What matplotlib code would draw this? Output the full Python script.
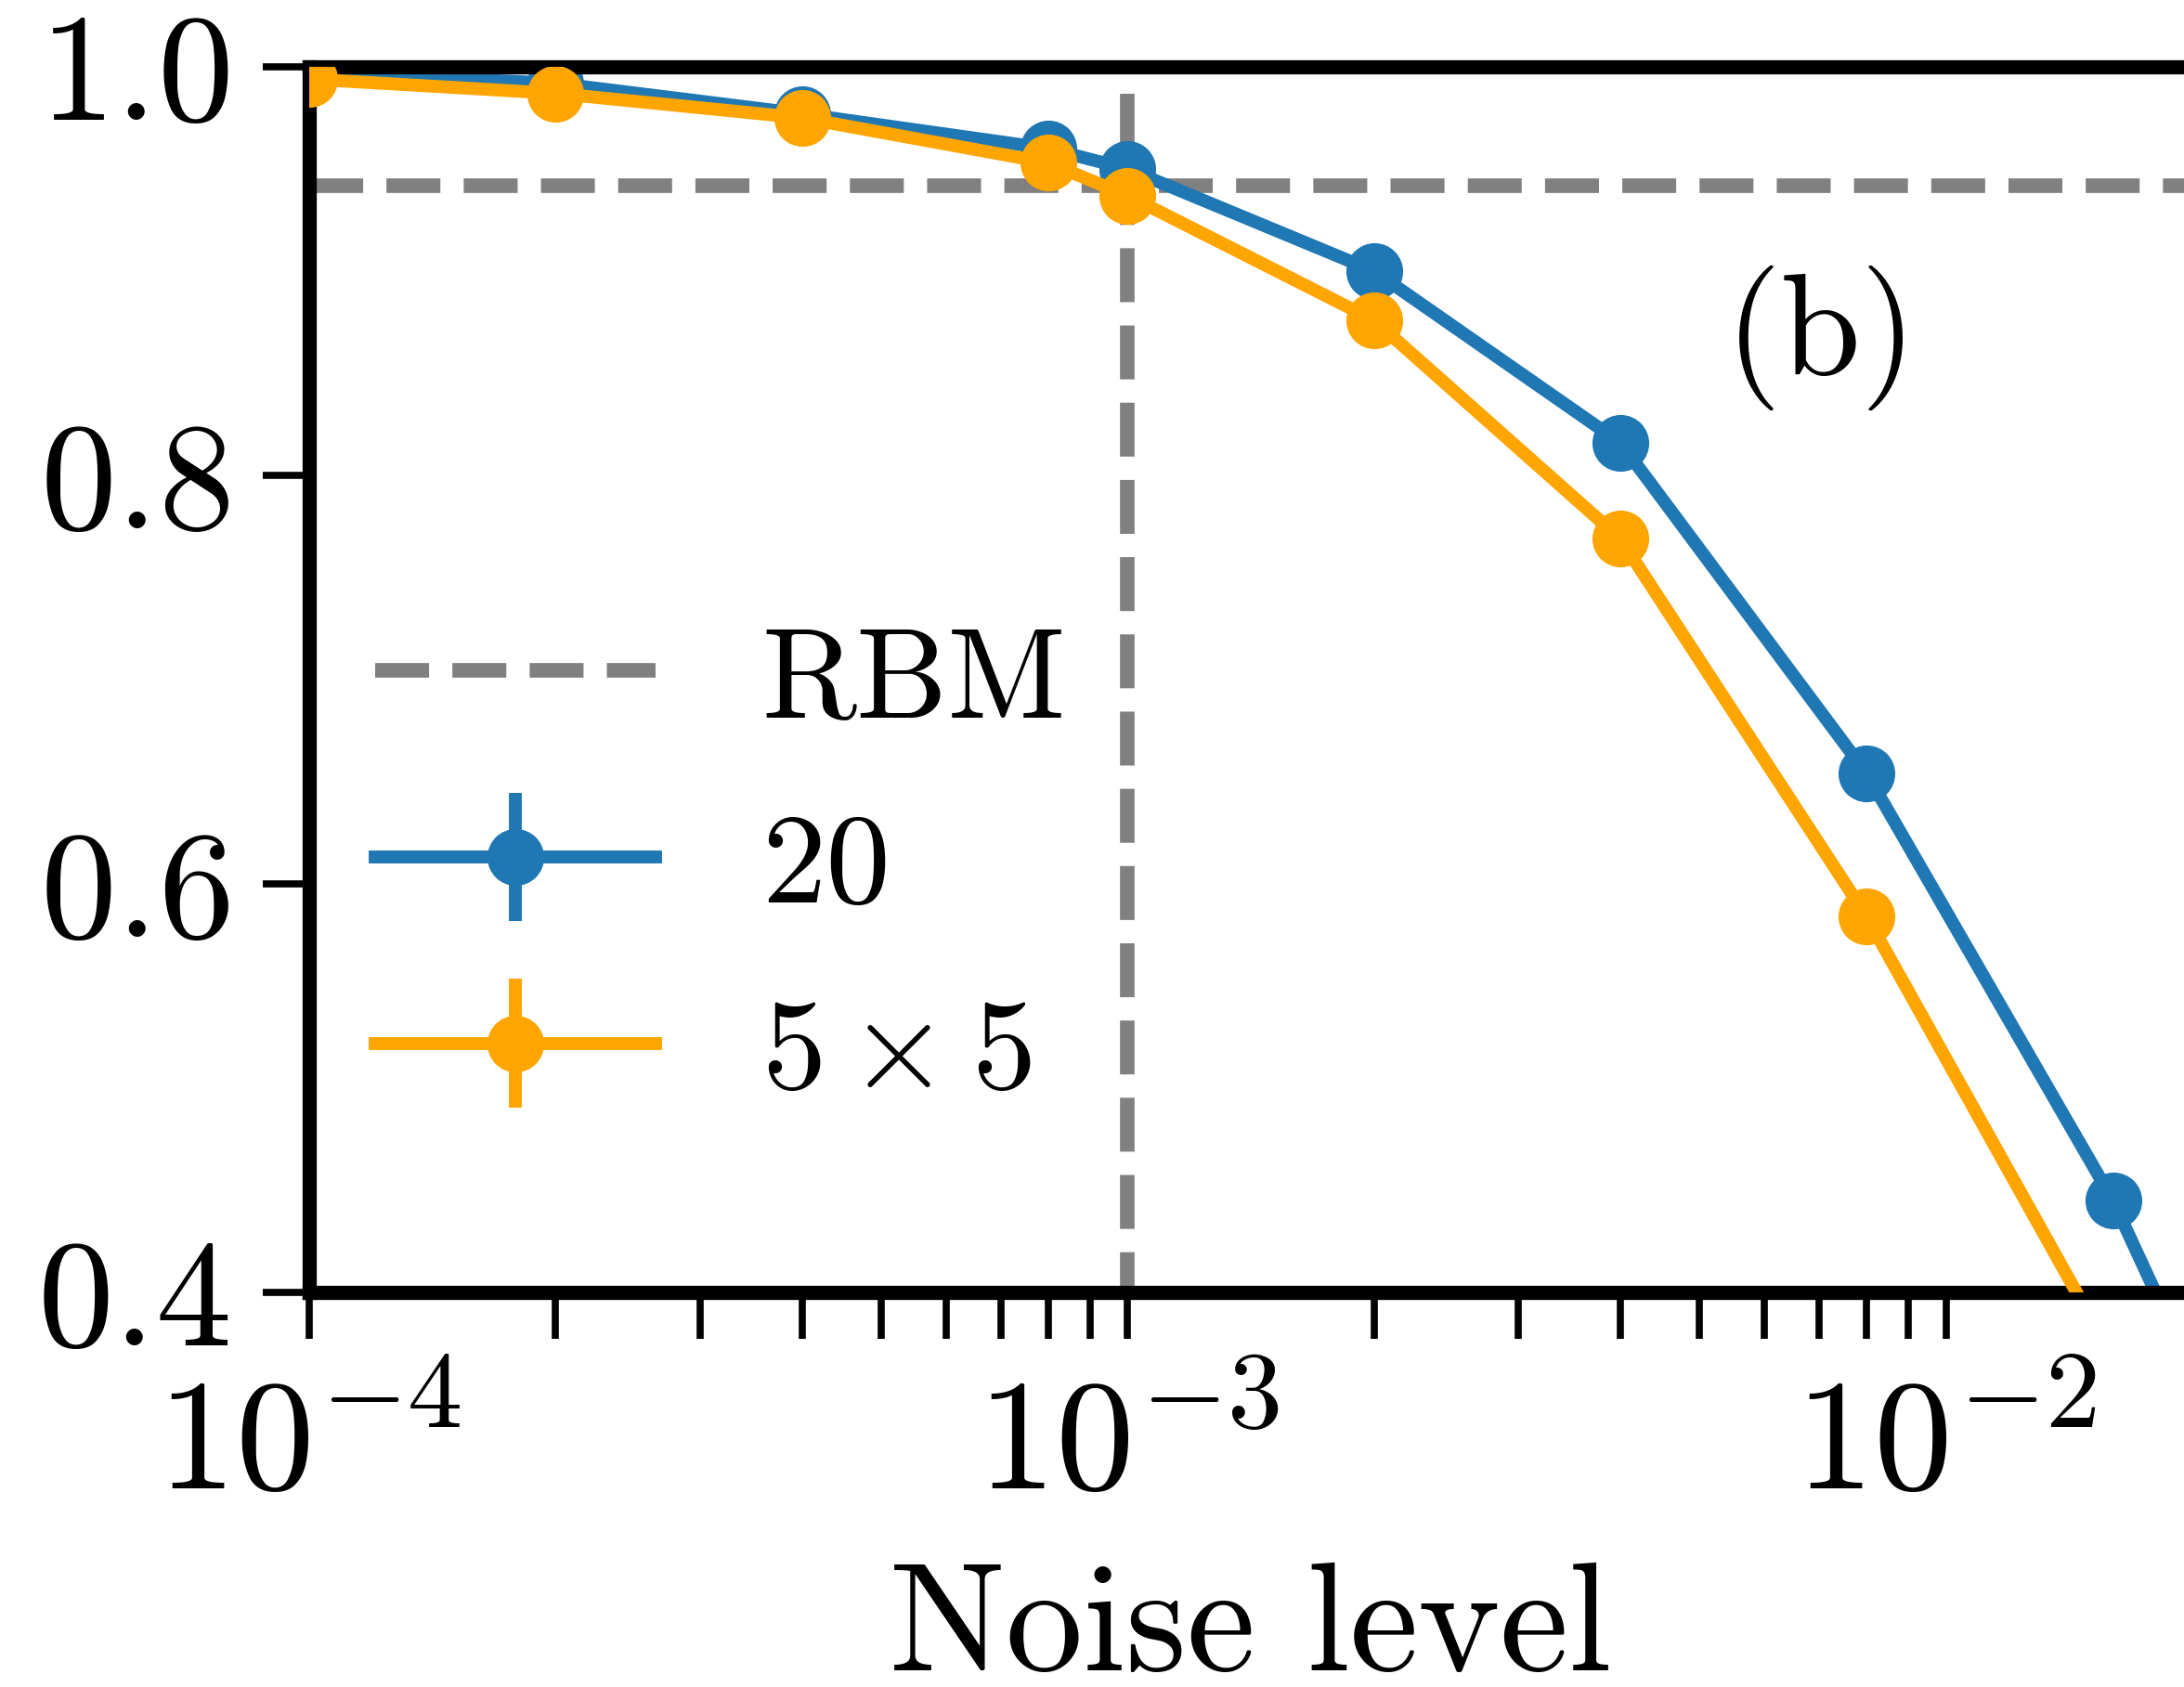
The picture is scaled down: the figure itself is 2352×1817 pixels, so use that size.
import numpy as np
import matplotlib
matplotlib.use("Agg")
import matplotlib.pyplot as plt

# data
noise = [1e-4, 2e-4, 4e-4, 8e-4, 1e-3, 2e-3, 4e-3, 8e-3, 1.6e-2, 3.2e-2]
acc_20 = [0.997, 0.992, 0.977, 0.960, 0.950, 0.900, 0.816, 0.654, 0.445, 0.184]
err_20 = [0.0] * len(acc_20)
acc_5x5 = [0.994, 0.987, 0.975, 0.953, 0.937, 0.876, 0.769, 0.584, 0.368]
err_5x5 = [0.0] * len(acc_5x5)
rbm_level = 0.942
noise_mark = 1e-3
mark_top = 0.987

plt.rcParams['font.family'] = 'serif'
plt.rcParams['font.serif'] = ['cmr10']
plt.rcParams['mathtext.fontset'] = 'cm'
plt.rcParams['axes.formatter.use_mathtext'] = True
plt.rcParams['axes.unicode_minus'] = False

fig = plt.figure(figsize=(23.52, 18.17), dpi=100)
ax = fig.add_axes([0.1416, 0.2339, 0.8622, 0.7265])

ax.axhline(rbm_level, color='gray', ls='--', lw=11.3, label='RBM', zorder=1)
# drawn top-down so the dash pattern starts at the top
ax.vlines(noise_mark, mark_top, 0.3, color='gray', ls='--', lw=11.3, zorder=1)

ax.errorbar(noise, acc_20, yerr=err_20, color='#1f77b4', marker='o',
            markersize=43, lw=10, elinewidth=10, label='20', zorder=2)
ax.errorbar(noise[:len(acc_5x5)], acc_5x5, yerr=err_5x5, color='orange',
            marker='o', markersize=43, lw=10, elinewidth=10,
            label=r'$5\times5$', zorder=3)

ax.set_xscale('log')
ax.set_xlim(1e-4, 2e-2)
ax.set_ylim(0.4, 1.0)
ax.set_yticks([0.4, 0.6, 0.8, 1.0])

for s in ax.spines.values():
    s.set_linewidth(11)

ax.tick_params(axis='both', which='both', direction='out', length=36,
               width=5.5, labelsize=118, top=False, right=False)
ax.tick_params(axis='y', pad=26)
ax.tick_params(axis='x', which='both', pad=30, labelsize=122)

ax.set_xlabel('Noise level', fontsize=120, labelpad=33)

fig.text(0.834, 0.80, '(b)', fontsize=112, ha='center', va='center')

ax.legend(loc='center left', bbox_to_anchor=(0.148, 0.4846),
          bbox_transform=fig.transFigure, frameon=False, fontsize=100,
          handlelength=2.18, handletextpad=0.82, labelspacing=0.55,
          borderaxespad=0, borderpad=0.4)

fig.savefig('out.png', dpi=100)
